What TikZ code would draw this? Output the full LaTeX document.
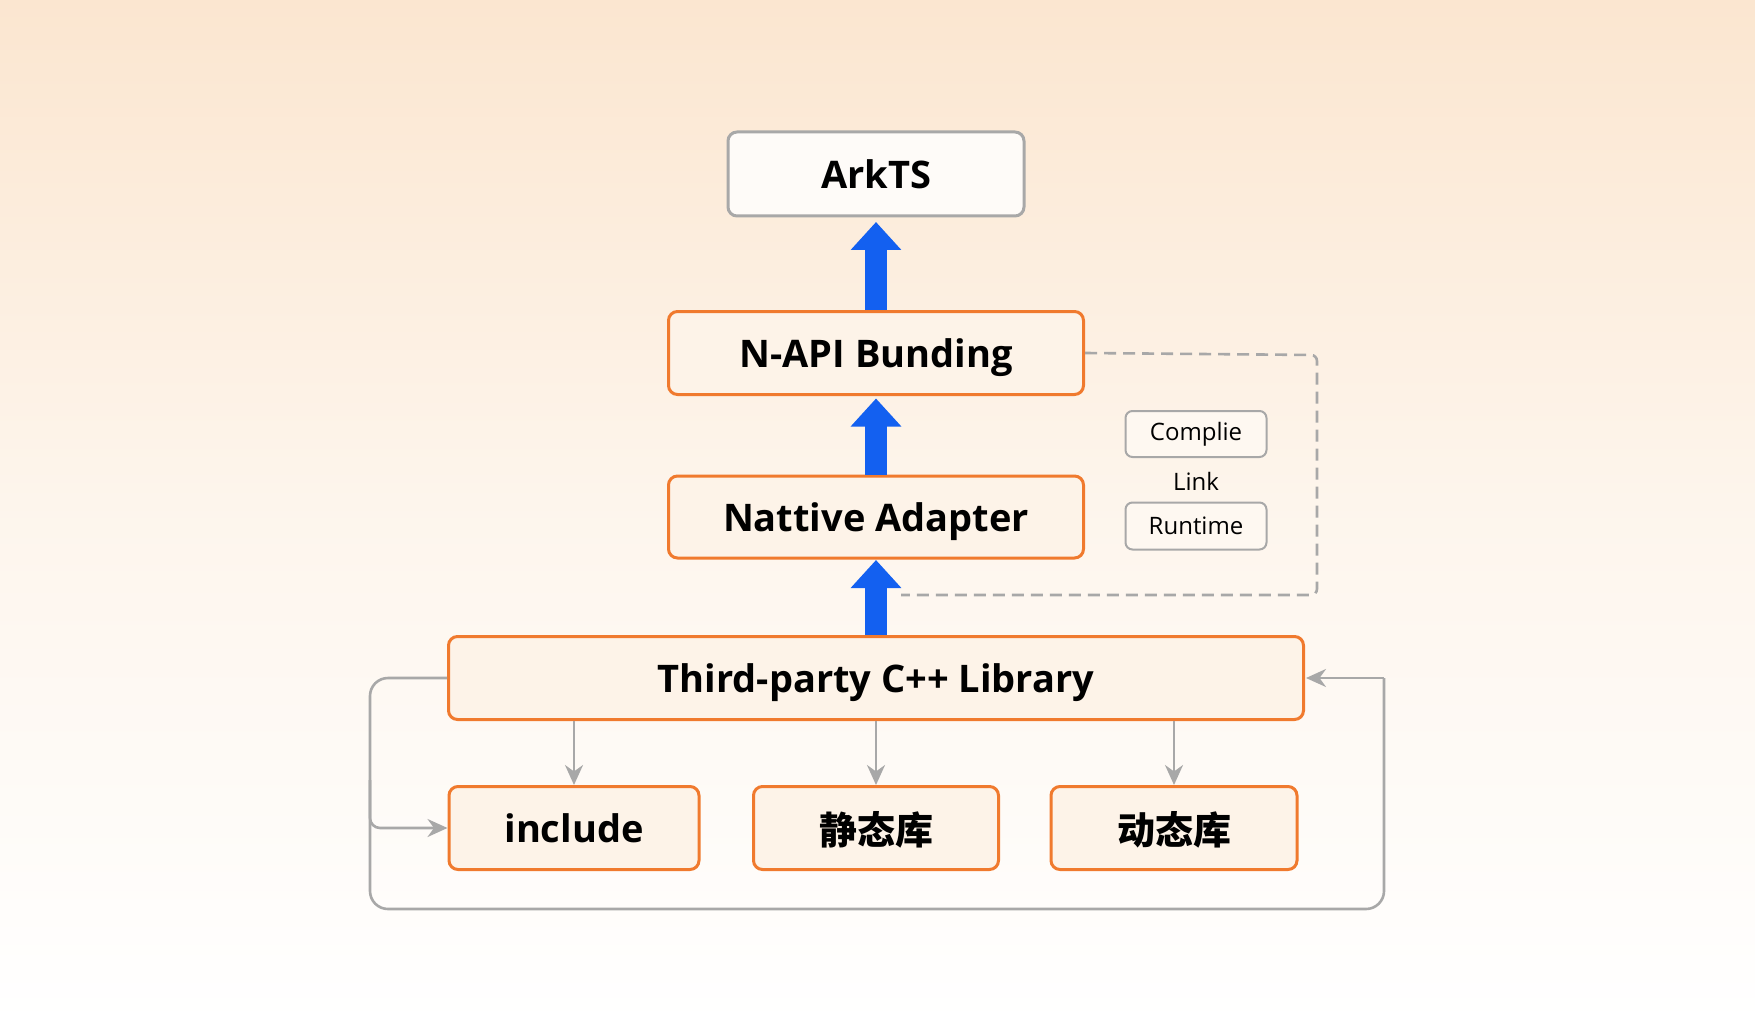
\documentclass[tikz,border=0pt]{standalone}
\usepackage{fontspec}
\setmainfont{Open Sans}
\newfontfamily\cjk{Noto Sans CJK SC}
\usetikzlibrary{arrows.meta}
\definecolor{org}{HTML}{F07A2E}
\definecolor{peach}{HTML}{FBE6D0}
\definecolor{fillc}{HTML}{FDF3E8}
\definecolor{blu}{HTML}{1360F0}
\definecolor{gry}{HTML}{A8A8A8}
\begin{document}
\begin{tikzpicture}[x=1pt,y=-1pt,
 box/.style={draw=org,line width=3pt,rounded corners=9pt,fill=fillc,font=\fontsize{38}{40}\selectfont\bfseries,inner sep=0pt,text depth=0pt},
 gbox/.style={draw=gry,line width=2pt,rounded corners=7pt,fill=fillc!60!white,inner sep=0pt,font=\fontsize{24}{26}\selectfont},
 gl/.style={draw=gry,line width=2.6pt},
 ga/.style={gl,-{Stealth[length=20pt,width=18pt]}},
 barrow/.style={draw=blu,line width=22pt,-{Triangle[length=28pt,width=49pt]}}]
\shade[top color=peach,bottom color=white,middle color=fillc!80!white] (0,0) rectangle (1755,1024);
\useasboundingbox (0,0) rectangle (1755,1024);
\node[box,draw=gry,fill=white!70!fillc,minimum width=296pt,minimum height=84pt] (ark) at (876,174) {ArkTS};
\node[box,minimum width=415pt,minimum height=83pt] (napi) at (876,353) {N-API Bunding};
\node[box,minimum width=415pt,minimum height=82pt] (nat) at (876,517) {Nattive Adapter};
\node[box,minimum width=855pt,minimum height=83pt] (tp) at (876,678) {Third-party C++ Library};
\node[box,minimum width=250pt,minimum height=83pt] (inc) at (574,828) {include};
\node[box,minimum width=245pt,minimum height=83pt] (st) at (876,828) {\cjk 静态库};
\node[box,minimum width=246pt,minimum height=83pt] (dy) at (1174,828) {\cjk 动态库};
\node[gbox,minimum width=141pt,minimum height=46pt] (cp) at (1196,434) {Complie};
\node[font=\fontsize{24}{26}\selectfont] (lk) at (1196,481) {Link};
\node[gbox,minimum width=141pt,minimum height=47pt] (rt) at (1196,526) {Runtime};
\draw[barrow] (nat.north) -- ++(0,-76);
\draw[barrow] (napi.north) -- ++(0,-88);
\draw[barrow] (tp.north) -- ++(0,-75);
\coordinate (d1) at (1317,355);
\coordinate (d2) at (1317,595);
\coordinate (d3) at (901,595);
\draw[gl,dash pattern=on 12pt off 7pt,rounded corners=6pt] (napi.east) -- (d1) -- (d2) -- (d3);
\coordinate (l1) at (370,678);
\coordinate (l2) at (370,909);
\coordinate (l3) at (1384,909);
\coordinate (l4) at (1384,678);
\coordinate (lb) at (370,828);
\draw[gl,rounded corners=18pt] (tp.west) -- (l1) -- (l2) -- (l3) -- (l4);
\draw[ga,shorten >=1pt] (l4) -- (tp.east);
\draw[ga,rounded corners=10pt] (370,780) -- (lb) -- (inc.west);
\draw[ga] (tp.south -| inc) -- (inc.north);
\draw[ga] (tp.south -| st) -- (st.north);
\draw[ga] (tp.south -| dy) -- (dy.north);
\end{tikzpicture}
\end{document}
